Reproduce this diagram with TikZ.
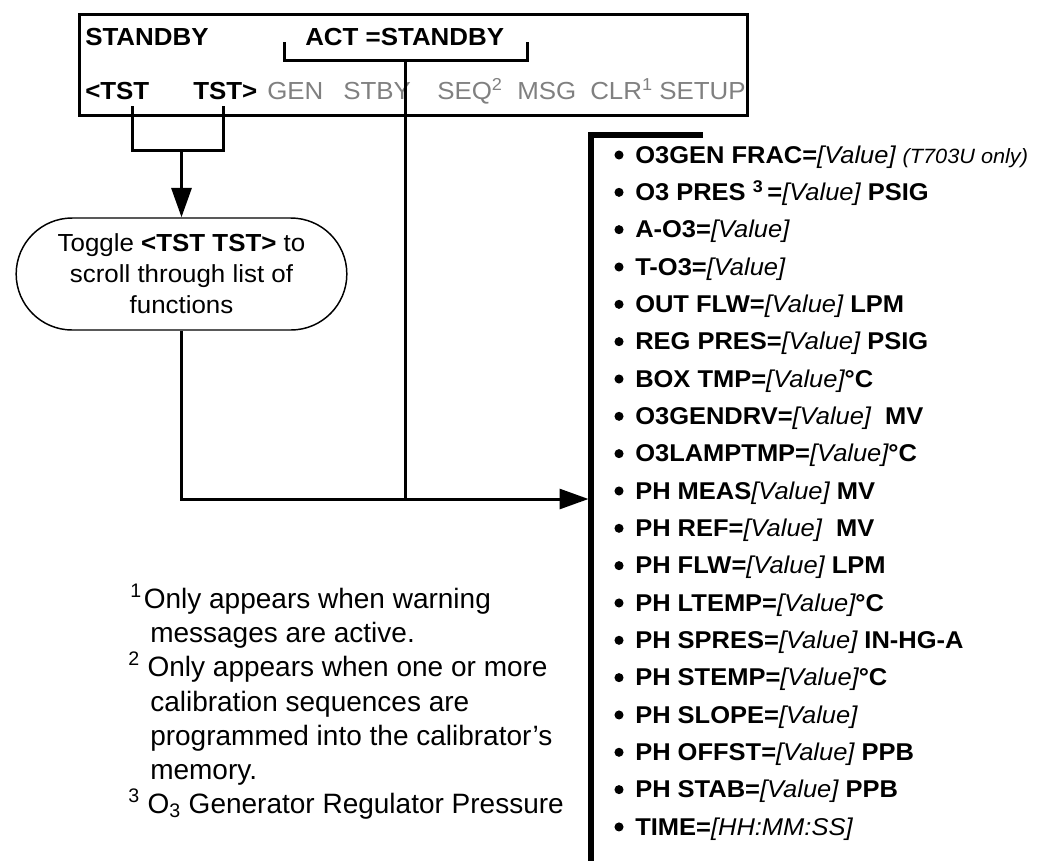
\documentclass[tikz,border=0pt]{standalone}
\usepackage{fontspec}
\setmainfont{Liberation Sans}
\newfontfamily\widesans[FakeStretch=1.05]{Liberation Sans}
\usetikzlibrary{arrows.meta,shapes.misc}
\definecolor{softgray}{RGB}{128,128,128}
\newcommand\vl[1]{{\mdseries\itshape #1}}
\begin{document}
\begin{tikzpicture}[x=0.75pt,y=-0.75pt,
  lbl/.style={inner sep=0pt, anchor=base west, font=\widesans\fontsize{18.5}{22}\selectfont},
  keyb/.style={lbl, font=\widesans\fontsize{18.5}{22}\selectfont\bfseries},
  keyg/.style={lbl, text=softgray},
  item/.style={lbl, font=\widesans\fontsize{18.2}{22}\selectfont\bfseries},
  note/.style={lbl, font=\fontsize{21}{25}\selectfont},
  wire/.style={line width=2.25pt},
  tipv/.style={-{Triangle[length=22pt,width=15pt]}},
  bar/.style={line width=4.5pt}]
\useasboundingbox (0,0) rectangle (1044,861);

% display box
\node[draw, line width=2.25pt, minimum width=501pt, minimum height=75.75pt, inner sep=0pt] (lcd) at (413.5,65) {};
\node[keyb] (standby) at (85,45) {STANDBY};
\node[keyb] (act) at (305,45) {ACT =STANDBY};
\node[keyb] (tstl) at (85,99) {<TST};
\node[keyb] (tstr) at (193,99) {TST>};
\node[keyg] (gen) at (267,99) {GEN};
\node[keyg] (stby) at (343,99) {STBY};
\node[keyg] (seq) at (437,99) {SEQ\textsuperscript{2}};
\node[keyg] (msg) at (517,99) {MSG};
\node[keyg] (clr) at (590,99) {CLR\textsuperscript{1}};
\node[keyg] (setup) at (659,99) {SETUP};

% bracket under ACT
\coordinate (bl) at (284,42);
\coordinate (br) at (527,42);
\coordinate (bc) at (405,60);
\draw[wire] (bl) |- (bc) -| (br);

% TST bracket
\coordinate (tl) at (132,106);
\coordinate (tr) at (223,106);
\coordinate (tj) at (181.5,150);
\draw[wire] (tl) |- (tj) -| (tr);

% toggle node
\node[draw, rounded rectangle, line width=1.1pt, minimum width=248pt, minimum height=84pt,
  inner sep=0pt, align=center, font=\widesans\fontsize{18.5}{23.25}\selectfont] (toggle) at (181.5,274)
  {Toggle \textbf{<TST TST>} to\\scroll through list of\\functions};
\draw[wire, tipv] (tj) -- (toggle.north);

% list bar
\coordinate (lbtop) at (591,135);
\coordinate (lbend) at (703,135);
\coordinate (lbbot) at (591,861);
\draw[bar] (lbend) -- (lbtop) -- (lbbot);

% connectors to list
\coordinate (lst) at (588.5,499);
\draw[wire, -{Triangle[length=21.75pt,width=15pt]}] (toggle.south) |- (lst);
\draw[wire] (bc) -- (bc |- lst);

% list items
\foreach \t [count=\i from 0] in {
  {O3GEN FRAC=\vl{[Value]} \vl{\fontsize{15.5}{18}\selectfont (T703U only)}},
  {O3 PRES \textsuperscript{3}\,=\vl{[Value]} PSIG},
  {A-O3=\vl{[Value]}},
  {T-O3=\vl{[Value]}},
  {OUT FLW=\vl{[Value]} LPM},
  {REG PRES=\vl{[Value]} PSIG},
  {BOX TMP=\vl{[Value]}°C},
  {O3GENDRV=\vl{[Value]}\ \ MV},
  {O3LAMPTMP=\vl{[Value]}°C},
  {PH MEAS\vl{[Value]} MV},
  {PH REF=\vl{[Value]}\ \ MV},
  {PH FLW=\vl{[Value]} LPM},
  {PH LTEMP=\vl{[Value]}°C},
  {PH SPRES=\vl{[Value]} IN-HG-A},
  {PH STEMP=\vl{[Value]}°C},
  {PH SLOPE=\vl{[Value]}},
  {PH OFFST=\vl{[Value]} PPB},
  {PH STAB=\vl{[Value]} PPB},
  {TIME=\vl{[HH:MM:SS]}}}
{
  \fill (619,{155+37.33*\i}) circle[radius=3.4pt];
  \node[item] (it\i) at (635,{163.3+37.33*\i}) {\t};
}

% footnotes
\node[note] (n1a) at (130,608) {\textsuperscript{1}\hspace{1.5pt}Only appears when warning};
\node[note] (n1b) at (150,642) {messages are active.};
\node[note] (n2a) at (128,676) {\textsuperscript{2} Only appears when one or more};
\node[note] (n2b) at (150,711) {calibration sequences are};
\node[note] (n2c) at (150,745) {programmed into the calibrator’s};
\node[note] (n2d) at (150,779) {memory.};
\node[note] (n3a) at (128,813) {\textsuperscript{3} O\textsubscript{3} Generator Regulator Pressure};
\end{tikzpicture}
\end{document}
